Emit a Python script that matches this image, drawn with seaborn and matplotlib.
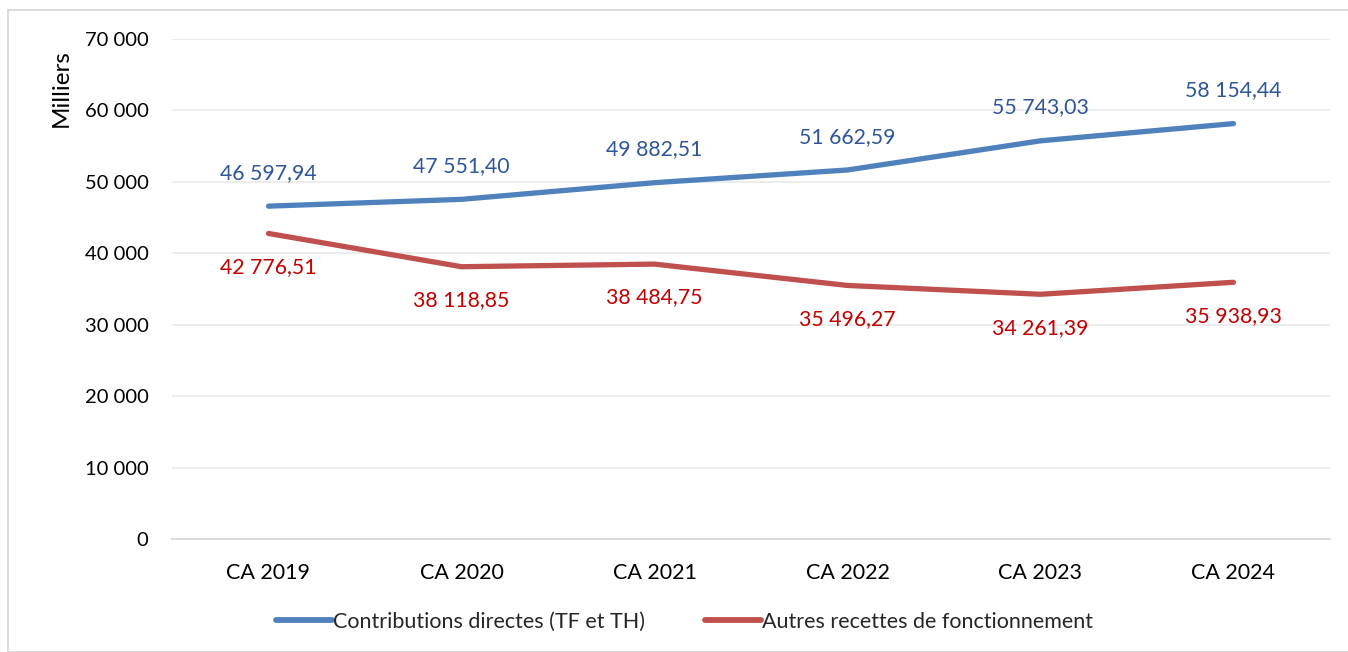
import matplotlib
matplotlib.use("Agg")
import matplotlib.pyplot as plt
import seaborn as sns
import pandas as pd
from matplotlib.patches import Rectangle

annees = ["CA 2019", "CA 2020", "CA 2021", "CA 2022", "CA 2023", "CA 2024"]
contributions = [46597.94, 47551.40, 49882.51, 51662.59, 55743.03, 58154.44]
autres = [42776.51, 38118.85, 38484.75, 35496.27, 34261.39, 35938.93]
noms = ["Contributions directes (TF et TH)", "Autres recettes de fonctionnement"]
yticks = [0, 10000, 20000, 30000, 40000, 50000, 60000, 70000]

df = pd.DataFrame({"annee": annees * 2,
                   "valeur": contributions + autres,
                   "serie": [noms[0]] * 6 + [noms[1]] * 6})

sns.set_theme(style="white")
plt.rcParams["font.family"] = ["Lato", "DejaVu Sans"]

fig = plt.figure(figsize=(13.48, 6.52), dpi=100)
ax = fig.add_axes([0.1276, 0.1733, 0.8590, 0.7669])

line_cols = ["#4F81BD", "#C0504D"]
text_cols = ["#2F5597", "#C00000"]

sns.lineplot(data=df, x="annee", y="valeur", hue="serie", palette=line_cols,
             linewidth=3.8, ax=ax, sort=False, legend=True)
for l in ax.lines:
    l.set_solid_capstyle("round")


def fmt(v):
    s = f"{v:,.2f}"
    return s.replace(",", " ").replace(".", ",")


for i, a in enumerate(annees):
    ax.annotate(fmt(contributions[i]), (i, contributions[i]), xytext=(0, 24),
                textcoords="offset points", ha="center", va="center",
                color=text_cols[0], fontsize=15.3)
    ax.annotate(fmt(autres[i]), (i, autres[i]), xytext=(0, -24),
                textcoords="offset points", ha="center", va="center",
                color=text_cols[1], fontsize=15.3)

ax.set_xlim(-0.5, 5.5)
ax.set_ylim(0, 70000)
ax.set_yticks(yticks)
ax.set_yticklabels([f"{t:,}".replace(",", " ") for t in yticks], fontsize=14.5)
ax.tick_params(axis="x", labelsize=15.5, pad=11)
ax.tick_params(axis="y", pad=11)
for lab in ax.get_xticklabels() + ax.get_yticklabels():
    lab.set_color("black")
ax.grid(axis="y", color="#ebebeb", linewidth=1.3)
ax.set_axisbelow(True)
for s in ["top", "right", "left"]:
    ax.spines[s].set_visible(False)
ax.spines["bottom"].set_color("#d9d9d9")
ax.spines["bottom"].set_linewidth(1.3)
ax.set_xlabel("")
ax.set_ylabel("Milliers", fontsize=17.5, color="black")
ax.yaxis.set_label_coords(-0.087, 0.902)

handles, labels = ax.get_legend_handles_labels()
ax.get_legend().remove()
leg = fig.legend(handles, labels, loc="center", bbox_to_anchor=(0.508, 0.046), ncol=2,
                 frameon=False, fontsize=15.5, handlelength=2.6, handletextpad=0.05,
                 columnspacing=2.8)
for h in leg.get_lines():
    h.set_linewidth(4.2)
    h.set_solid_capstyle("round")

fig.patches.append(Rectangle((8 / 1348, 0), 1.2, 1 - 10 / 652, transform=fig.transFigure,
                             fill=False, edgecolor="#d9d9d9", linewidth=1.3))

fig.savefig("out.png", dpi=100)
